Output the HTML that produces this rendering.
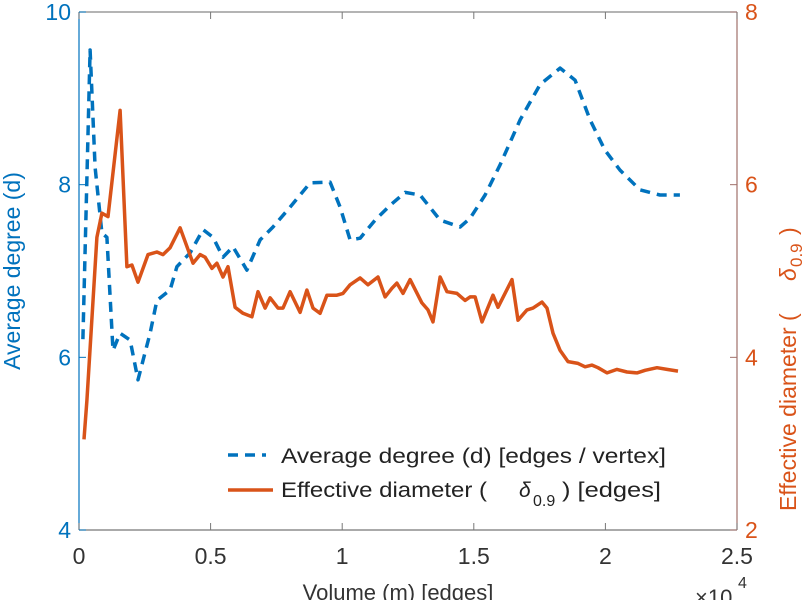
<!DOCTYPE html>
<html><head><meta charset="utf-8"><style>
html,body{margin:0;padding:0;background:#fff;width:812px;height:600px;overflow:hidden}
svg text{font-family:"Liberation Sans",sans-serif}
</style></head><body>
<svg id="chart" width="812" height="600" viewBox="0 0 812 600" xmlns="http://www.w3.org/2000/svg">
<g id="axes"></g>
<g id="series"></g>
<g>
<line x1="228" y1="455" x2="266" y2="455" stroke="#0072BD" stroke-width="3.5" stroke-dasharray="10,7"/>
<text x="281" y="463" font-size="21" fill="#222" textLength="385" lengthAdjust="spacingAndGlyphs">Average degree (d) [edges / vertex]</text>
<line x1="228" y1="490" x2="273" y2="490" stroke="#D95319" stroke-width="3.5"/>
<text x="281" y="497" font-size="21" fill="#222" textLength="206" lengthAdjust="spacingAndGlyphs">Effective diameter (</text>
<text x="519" y="497" font-size="21" font-style="italic" fill="#222">δ</text>
<text x="533" y="506" font-size="16" fill="#222">0.9</text>
<text x="562" y="497" font-size="21" fill="#222" textLength="99" lengthAdjust="spacingAndGlyphs">) [edges]</text>
</g>
<text x="398" y="600" font-size="22" fill="#333" text-anchor="middle">Volume (m) [edges]</text>
<text x="695" y="605" font-size="22" fill="#333">×10</text>
<text x="738" y="588" font-size="16" fill="#333">4</text>
<text transform="translate(20,271) rotate(-90)" font-size="23" fill="#0072BD" text-anchor="middle">Average degree (d)</text>
<g transform="translate(796,271) rotate(-90)" fill="#D95319">
<text x="-240" y="0" font-size="23">Effective diameter (</text>
<text x="-10" y="0" font-size="23" font-style="italic">δ</text>
<text x="4" y="6" font-size="17">0.9</text>
<text x="36" y="0" font-size="23">)</text>
</g>
</svg>
<script>
const xTicks=[0,0.5,1,1.5,2,2.5];
const xTickLabels=["0","0.5","1","1.5","2","2.5"];
const leftTicks=[4,6,8,10];
const rightTicks=[2,4,6,8];
const degreeX=[0.015,0.042,0.061,0.087,0.106,0.129,0.156,0.194,0.224,0.270,0.296,0.346,0.372,0.422,0.471,0.509,0.547,0.585,0.638,0.688,0.737,0.802,0.878,0.954,0.992,1.030,1.068,1.125,1.182,1.239,1.296,1.372,1.448,1.486,1.543,1.600,1.676,1.752,1.828,1.885,1.942,1.998,2.055,2.131,2.207,2.283];
const degreeY=[6.21,9.56,8.2,7.44,7.39,6.08,6.28,6.20,5.74,6.28,6.66,6.78,7.05,7.21,7.48,7.39,7.16,7.28,7.01,7.36,7.51,7.74,8.02,8.03,7.74,7.36,7.38,7.59,7.76,7.91,7.88,7.59,7.51,7.61,7.88,8.23,8.75,9.16,9.35,9.21,8.75,8.40,8.17,7.94,7.88,7.88];
const diamX=[0.019,0.030,0.068,0.087,0.110,0.156,0.182,0.201,0.224,0.262,0.296,0.319,0.346,0.384,0.433,0.460,0.479,0.505,0.524,0.547,0.566,0.593,0.623,0.657,0.680,0.707,0.726,0.756,0.775,0.802,0.840,0.866,0.889,0.916,0.942,0.980,1.003,1.030,1.068,1.098,1.136,1.163,1.189,1.208,1.231,1.258,1.303,1.326,1.345,1.372,1.398,1.436,1.467,1.486,1.505,1.531,1.573,1.592,1.645,1.668,1.702,1.725,1.759,1.778,1.801,1.828,1.858,1.896,1.923,1.949,1.972,2.006,2.044,2.082,2.120,2.151,2.196,2.234,2.276];
const diamY=[3.05,3.5,5.39,5.67,5.63,6.86,5.05,5.07,4.87,5.19,5.22,5.19,5.27,5.50,5.09,5.19,5.16,5.03,5.09,4.93,5.05,4.58,4.51,4.47,4.76,4.57,4.69,4.57,4.57,4.76,4.52,4.78,4.57,4.51,4.72,4.72,4.74,4.84,4.92,4.84,4.93,4.70,4.80,4.86,4.74,4.90,4.63,4.55,4.41,4.93,4.76,4.74,4.66,4.70,4.70,4.41,4.72,4.58,4.90,4.43,4.55,4.57,4.64,4.57,4.28,4.08,3.95,3.93,3.89,3.91,3.88,3.82,3.86,3.83,3.82,3.85,3.88,3.86,3.84];
const L=79,R=737,T=12,B=530;
const xs=v=>L+(v-0)/2.5*(R-L);
const yl=v=>B-(v-4)/6*(B-T);
const yr=v=>B-(v-2)/6*(B-T);
const NS="http://www.w3.org/2000/svg";
function mk(tag,attrs,parent){const e=document.createElementNS(NS,tag);for(const k in attrs)e.setAttribute(k,attrs[k]);parent.appendChild(e);return e;}
const ax=document.getElementById('axes');
let e;
e=mk('line',{x1:L,y1:T,x2:R,y2:T,stroke:'#888','stroke-width':1.2},ax);


e=mk('line',{x1:L,y1:B,x2:R,y2:B,stroke:'#777','stroke-width':1.2},ax);


e=mk('line',{x1:L,y1:T,x2:L,y2:B,stroke:'#0072BD','stroke-width':1.2},ax);


e=mk('line',{x1:R,y1:T,x2:R,y2:B,stroke:'#A0706A','stroke-width':1.2},ax);


xTicks.forEach((t,i)=>{const x=xs(t);
 e=mk('line',{x1:x,y1:B,x2:x,y2:B-7,stroke:'#777'},ax);
 
 
 e=mk('line',{x1:x,y1:T,x2:x,y2:T+7,stroke:'#777'},ax);
 
 
 e=mk('text',{x:x,y:B+34,'font-size':23,fill:'#333','text-anchor':'middle'},ax);e.textContent=xTickLabels[i];
 
 
});
leftTicks.forEach(t=>{const y=yl(t);
 e=mk('line',{x1:L,y1:y,x2:L+7,y2:y,stroke:'#0072BD'},ax);
 
 
 e=mk('text',{x:L-8,y:y+8,'font-size':23,fill:'#0072BD','text-anchor':'end'},ax);e.textContent=String(t);
 
 
});
rightTicks.forEach(t=>{const y=yr(t);
 e=mk('line',{x1:R,y1:y,x2:R-7,y2:y,stroke:'#A0706A'},ax);
 
 
 e=mk('text',{x:R+8,y:y+8,'font-size':23,fill:'#D95319'},ax);e.textContent=String(t);
 
 
});
const sg=document.getElementById('series');
const dp=degreeX.map((x,i)=>xs(x).toFixed(1)+','+yl(degreeY[i]).toFixed(1)).join(' ');
e=mk('polyline',{points:dp,fill:'none',stroke:'#0072BD','stroke-width':3.5,'stroke-dasharray':'10,7','stroke-linejoin':'round'},sg);


const op=diamX.map((x,i)=>xs(x).toFixed(1)+','+yr(diamY[i]).toFixed(1)).join(' ');
e=mk('polyline',{points:op,fill:'none',stroke:'#D95319','stroke-width':3.5,'stroke-linejoin':'round'},sg);


</script>
</body></html>
